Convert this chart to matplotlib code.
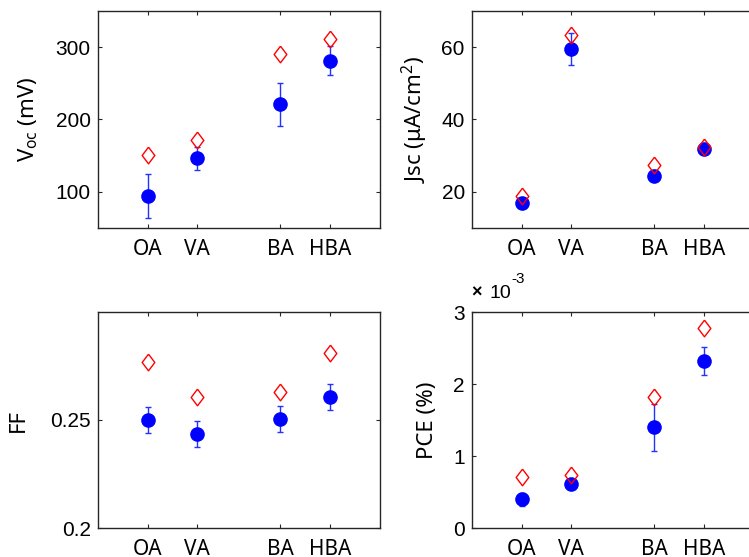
import numpy as np
import matplotlib
matplotlib.use("Agg")
import matplotlib.pyplot as plt

plt.rcParams['mathtext.fontset'] = 'custom'
plt.rcParams['mathtext.rm'] = 'Noto Sans'
plt.rcParams['mathtext.it'] = 'Noto Sans:italic'

# acid series and where they sit on the x axis
samples = ['OA', 'VA', 'BA', 'HBA']
xpos = [0.6, 0.9, 1.4, 1.7]

# open-circuit voltage (mV): mean, std, best cell
voc_mean = [94, 146, 221, 281]
voc_err = [30, 16, 30, 20]
voc_best = [151, 171, 291, 311]

# short-circuit current density (uA/cm2)
jsc_mean = [16.8, 59.5, 24.4, 31.8]
jsc_err = [0.6, 4.4, 1.5, 0.7]
jsc_best = [18.7, 63.4, 27.4, 32.4]

# fill factor
ff_mean = [0.250, 0.2434, 0.2503, 0.2605]
ff_err = [0.006, 0.006, 0.006, 0.006]
ff_best = [0.2765, 0.2605, 0.2626, 0.2805]

# power conversion efficiency (%), in units of 1e-3
pce_mean = [0.40, 0.62, 1.40, 2.32]
pce_err = [0.09, 0.05, 0.33, 0.20]
pce_best = [0.71, 0.74, 1.82, 2.78]

diamond = [(0, 1), (0.76, 0), (0, -1), (-0.76, 0), (0, 1)]

W, H = 749, 557
fig = plt.figure(figsize=(W / 100, H / 100), dpi=100)


def make_ax(left, top, bottom, width=282.3):
    return fig.add_axes([left / W, (H - bottom) / H, width / W, (bottom - top) / H])


def panel(ax, mean, err, best, ylim, yticks, ytl, ylabel, labx):
    ax.errorbar(xpos, mean, yerr=err, fmt='o', color='#0000ff', ms=9.5,
                ecolor='#2233ff', elinewidth=1.0, capsize=2.5, capthick=1.0, zorder=2)
    ax.plot(xpos, best, ls='none', marker=diamond, ms=12, mfc='none',
            mec='#ff0000', mew=1.0, zorder=3)
    ax.set_xlim(0.3, 2.0)
    ax.set_ylim(*ylim)
    ax.set_xticks(xpos)
    ax.set_xticklabels(samples, fontfamily='Noto Sans', fontsize=15)
    ax.set_yticks(yticks)
    ax.set_yticklabels(ytl, fontfamily='Liberation Sans', fontsize=15)
    ax.tick_params(direction='in', length=3, width=0.8, color='#262626',
                   top=True, right=True)
    ax.tick_params(axis='x', pad=8)
    ax.tick_params(axis='y', pad=5)
    for s in ax.spines.values():
        s.set_linewidth(1.0)
        s.set_color('#262626')
    ax.set_ylabel(ylabel, fontfamily='Noto Sans', fontsize=16, va='center')
    ax.yaxis.set_label_coords(labx, 0.5)


ax1 = make_ax(97.7, 11, 227.7)
panel(ax1, voc_mean, voc_err, voc_best, (50, 350), [100, 200, 300],
      ['100', '200', '300'], r'V$_{\mathrm{oc}}$ (mV)', -0.245)

ax2 = make_ax(471.7, 11, 227.7)
panel(ax2, jsc_mean, jsc_err, jsc_best, (10, 70), [20, 40, 60],
      ['20', '40', '60'], r'Jsc (μA/cm$^{2}$)', -0.2)

ax3 = make_ax(97.7, 312, 528.3)
panel(ax3, ff_mean, ff_err, ff_best, (0.2, 0.2995), [0.2, 0.25],
      ['0.2', '0.25'], 'FF', -0.282)

ax4 = make_ax(471.7, 312, 528.3)
panel(ax4, pce_mean, pce_err, pce_best, (0, 3), [0, 1, 2, 3],
      ['0', '1', '2', '3'], 'PCE (%)', -0.155)
# exponent label above the PCE axis
ax4.text(0.0, 1.065, '×', transform=ax4.transAxes, fontweight='bold',
         fontfamily='Liberation Sans', fontsize=13, va='baseline', ha='left')
ax4.text(0.063, 1.065, '10', transform=ax4.transAxes,
         fontfamily='Liberation Sans', fontsize=14, va='baseline', ha='left')
ax4.text(0.142, 1.135, '-3', transform=ax4.transAxes,
         fontfamily='Liberation Sans', fontsize=11, va='baseline', ha='left')

plt.savefig('out.png', dpi=100)
